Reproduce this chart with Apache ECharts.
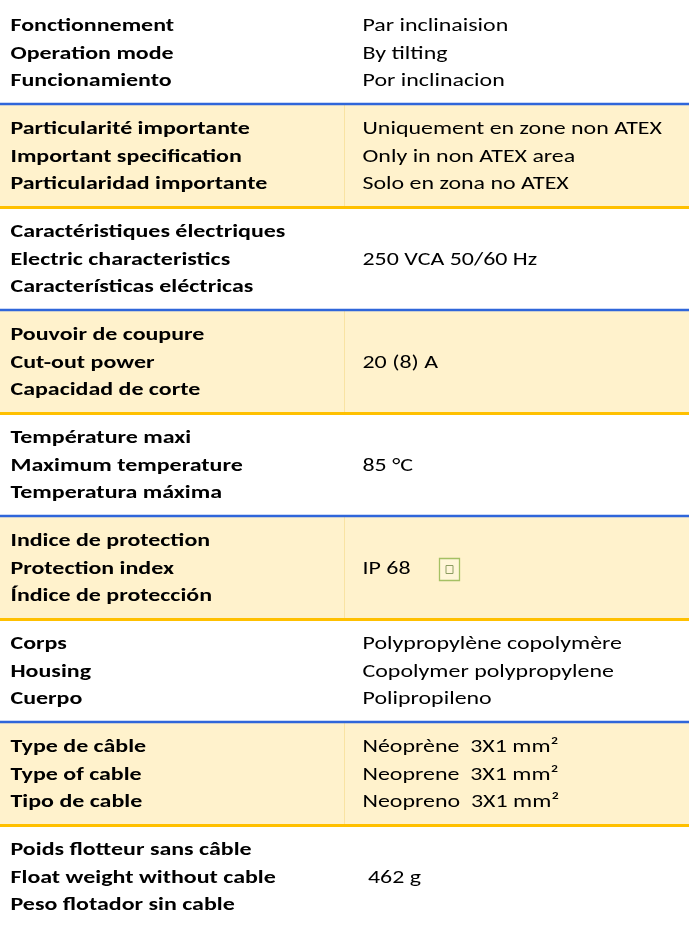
<!DOCTYPE html>
<html>
<head>
<meta charset="utf-8">
<script src="https://cdn.jsdelivr.net/npm/echarts@6/dist/echarts.min.js"></script>
<style>
html,body{margin:0;padding:0;background:#fff;}
#main{width:689px;height:927px;}
</style>
</head>
<body>
<div id="main"></div>
<script>
// Row categories
const rowKeys = ['mode','spec','elec','cut','temp','ip','body','cable','weight'];
// Left column labels (FR / EN / ES)
const labelsFR = ['Fonctionnement','Particularité importante','Caractéristiques électriques','Pouvoir de coupure','Température maxi','Indice de protection','Corps','Type de câble','Poids flotteur sans câble'];
const labelsEN = ['Operation mode','Important specification','Electric characteristics','Cut-out power','Maximum temperature','Protection index','Housing','Type of cable','Float weight without cable'];
const labelsES = ['Funcionamiento','Particularidad importante','Características eléctricas','Capacidad de corte','Temperatura máxima','Índice de protección','Cuerpo','Tipo de cable','Peso flotador sin cable'];
// Right column values (FR / EN / ES); empty when a single value is centred
const valuesFR = ['Par inclinaision','Uniquement en zone non ATEX','','','','','Polypropylène copolymère','Néoprène  3X1 mm²',''];
const valuesEN = ['By tilting','Only in non ATEX area','250 VCA 50/60 Hz','20 (8) A','85 °C','IP 68','Copolymer polypropylene','Neoprene  3X1 mm²',' 462 g'];
const valuesES = ['Por inclinacion','Solo en zona no ATEX','','','','','Polipropileno','Neopreno  3X1 mm²',''];
// Highlighted rows (1 = shaded)
const shaded = [0,1,0,1,0,1,0,1,0];
// Rows carrying the IP marker box
const ipMark = [0,0,0,0,0,1,0,0,0];

const FONT = 'Carlito, Calibri, Lato, "Noto Sans", sans-serif';
const FS = 19;
const LINE = 27.5;
const SPLIT = 0.5;

// horizontal stretch so the glyph widths follow the reference typeface
const mctx = document.createElement('canvas').getContext('2d');
function ratio(font, pairs){
  mctx.font = font;
  let s = 0;
  pairs.forEach(p => { s += p[1] / mctx.measureText(p[0]).width; });
  return s / pairs.length;
}
const SXB = ratio('bold ' + FS + 'px ' + FONT, [['Fonctionnement',162],['Caractéristiques électriques',276],['Float weight without cable',265],['Particularité importante',241]]);
const SXR = ratio(FS + 'px ' + FONT, [['Uniquement en zone non ATEX',301],['Polypropylène copolymère',260.5],['250 VCA 50/60 Hz',173]]);

const data = rowKeys.map((k, i) => [i]);

const chart = echarts.init(document.getElementById('main'), null, {renderer:'canvas'});
chart.setOption({
  animation:false,
  grid:{left:0,right:0,top:-7,height:939.6},
  xAxis:{type:'value',min:0,max:1,show:false},
  yAxis:{type:'category',data:rowKeys,inverse:true,show:false},
  series:[{
    type:'custom',
    clip:false,
    data:data,
    encode:{y:0},
    renderItem:function(params, api){
      const i = api.value(0);
      const p0 = api.coord([0, i]);
      const p1 = api.coord([1, i]);
      const h = api.size([0, 1])[1];
      const x0 = p0[0], x1 = p1[0], cy = p0[1];
      const top = cy - h/2, bot = cy + h/2;
      const w = x1 - x0;
      const xs = x0 + w*SPLIT;
      const lx = x0 + 10.5, rx = xs + 18;
      const ty = cy + 2.5;
      const children = [];
      if (shaded[i]) {
        children.push({type:'rect',shape:{x:x0,y:top,width:w,height:h},style:{fill:'#FFF2CC'}});
        children.push({type:'line',shape:{x1:xs,y1:top,x2:xs,y2:bot},style:{stroke:'#F9E3A3',lineWidth:1}});
        children.push({type:'line',shape:{x1:x0,y1:top+1,x2:x1,y2:top+1},style:{stroke:'#2F66DA',lineWidth:2.5}});
        children.push({type:'line',shape:{x1:x0,y1:bot+1.5,x2:x1,y2:bot+1.5},style:{stroke:'#FFC000',lineWidth:3}});
      }
      const L = [labelsFR[i], labelsEN[i], labelsES[i]];
      const R = [valuesFR[i], valuesEN[i], valuesES[i]];
      for (let k = 0; k < 3; k++) {
        const y = ty + (k-1)*LINE;
        children.push({type:'text',x:lx,y:y,scaleX:SXB,style:{x:0,y:0,text:L[k],fill:'#000',font:'bold '+FS+'px '+FONT,verticalAlign:'middle',align:'left'}});
        if (R[k]) children.push({type:'text',x:rx,y:y,scaleX:SXR,style:{x:0,y:0,text:R[k],fill:'#000',font:FS+'px '+FONT,verticalAlign:'middle',align:'left'}});
      }
      if (ipMark[i]) {
        const bx = rx + 77, by = ty - 10.5;
        children.push({type:'rect',shape:{x:bx,y:by,width:20,height:22},style:{fill:'#FFF6D8',stroke:'#A5C063',lineWidth:1.3}});
        children.push({type:'rect',shape:{x:bx+6.5,y:by+7,width:7,height:8},style:{fill:'none',stroke:'#8C9C62',lineWidth:1}});
      }
      return {type:'group',children:children};
    }
  }]
});
</script>
</body>
</html>
